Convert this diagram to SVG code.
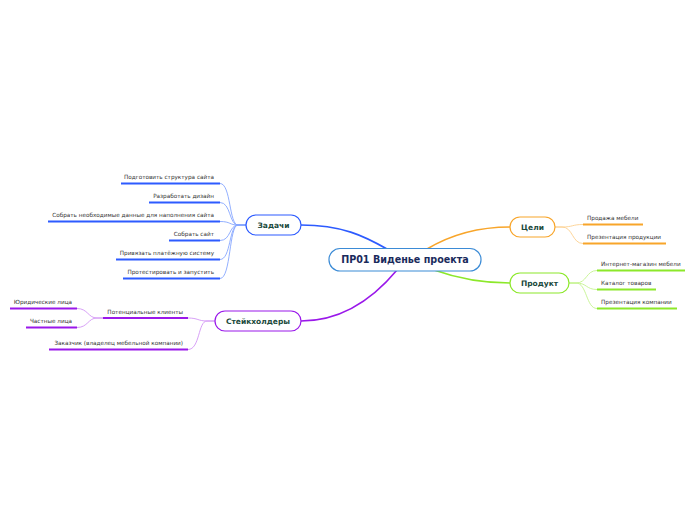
<svg xmlns="http://www.w3.org/2000/svg" width="696" height="520" viewBox="0 0 696 520">
<style>
.node rect{fill:#fff;stroke-width:1.2}
.lbl{font-family:"DejaVu Sans",Verdana,sans-serif;font-weight:bold;font-size:7.5px;fill:#1b4a3c;text-anchor:middle}
.leaf{font-family:"DejaVu Sans",Verdana,sans-serif;font-size:5.7px;fill:#333}
.l{text-anchor:end}
.main{fill:none;stroke-width:1.6}
.sub{fill:none;stroke-width:0.9}
.ul{stroke-width:2;fill:none}
.blue{stroke:#2d5bff}.lblue{stroke:#86a6ff}
.org{stroke:#f8a52a}.lorg{stroke:#fdd08e}
.grn{stroke:#8ce82a}.lgrn{stroke:#c4f38e}
.pur{stroke:#9a18ea}.lpur{stroke:#d395f5}
</style>
<rect width="696" height="520" fill="#fff"/>
<g id="connectors">
<path class="main blue" d="M301,225 C342,225 364,236 387,249"/>
<path class="main pur" d="M397,270 C372,300 340,321 301,321"/>
<path class="main org" d="M427,249 C452,234 480,227 510,227"/>
<path class="main grn" d="M434,270 C462,280 485,283 510,283"/>
<path class="sub lblue" d="M246,225 L238,225 C229,225 231,183.5 220,183.5"/>
<path class="sub lblue" d="M246,225 L238,225 C229,225 231,202.5 220,202.5"/>
<path class="sub lblue" d="M246,225 L238,225 C229,225 231,221.5 220,221.5"/>
<path class="sub lblue" d="M246,225 L238,225 C229,225 231,240.5 220,240.5"/>
<path class="sub lblue" d="M246,225 L238,225 C229,225 231,259.5 220,259.5"/>
<path class="sub lblue" d="M246,225 L238,225 C229,225 231,278.5 220,278.5"/>
<path class="sub lorg" d="M555,227 L562,227 C573,227 572,224.5 583,224.5"/>
<path class="sub lorg" d="M555,227 L562,227 C573,227 572,243.5 583,243.5"/>
<path class="sub lgrn" d="M569,283 L576,283 C587,283 586,270.5 597,270.5"/>
<path class="sub lgrn" d="M569,283 L576,283 C587,283 586,289.5 597,289.5"/>
<path class="sub lgrn" d="M569,283 L576,283 C587,283 586,308.5 597,308.5"/>
<path class="sub lpur" d="M215,321 L207,321 C198,321 198,318 188,318"/>
<path class="sub lpur" d="M215,321 L207,321 C198,321 200,349.5 188,349.5"/>
<path class="sub lpur" d="M103,318 L97,318 C88,318 88,308.5 77,308.5"/>
<path class="sub lpur" d="M103,318 L97,318 C88,318 88,327.5 77,327.5"/>
</g>
<g id="center" class="node">
<rect x="329" y="248.5" width="152" height="22.5" rx="11" stroke="#3b8bd6"/>
<text x="405" y="263.3" text-anchor="middle" font-family="DejaVu Sans,Verdana,sans-serif" font-weight="bold" font-size="9.6" fill="#1a2b5c">ПР01 Виденье проекта</text>
</g>
<g id="zadachi" class="node">
<rect x="246" y="215" width="55" height="20" rx="10" stroke="#2d5bff"/>
<text class="lbl" x="273.5" y="227.7">Задачи</text>
</g>
<g id="celi" class="node">
<rect x="510" y="217" width="45" height="20" rx="10" stroke="#f8a52a"/>
<text class="lbl" x="532.5" y="229.7">Цели</text>
</g>
<g id="produkt" class="node">
<rect x="510" y="273" width="59" height="20" rx="10" stroke="#8ce82a"/>
<text class="lbl" x="539.5" y="285.7">Продукт</text>
</g>
<g id="steikholdery" class="node">
<rect x="215" y="311" width="86" height="20" rx="10" stroke="#9a18ea"/>
<text class="lbl" x="258" y="323.7">Стейкхолдеры</text>
</g>
<g id="z1"><path class="ul blue" d="M121,183.5 H220"/><text class="leaf l" x="214" y="179">Подготовить структура сайта</text></g>
<g id="z2"><path class="ul blue" d="M149,202.5 H220"/><text class="leaf l" x="214" y="198">Разработать дизайн</text></g>
<g id="z3"><path class="ul blue" d="M48,221.5 H220"/><text class="leaf l" x="214" y="217">Собрать необходимые данные для наполнения сайта</text></g>
<g id="z4"><path class="ul blue" d="M169,240.5 H220"/><text class="leaf l" x="214" y="236">Собрать сайт</text></g>
<g id="z5"><path class="ul blue" d="M116,259.5 H220"/><text class="leaf l" x="214" y="255">Привязать платёжную систему</text></g>
<g id="z6"><path class="ul blue" d="M123,278.5 H220"/><text class="leaf l" x="214" y="274">Протестировать и запустить</text></g>
<g id="c1"><path class="ul org" d="M583,224.5 H643"/><text class="leaf" x="587" y="220">Продажа мебели</text></g>
<g id="c2"><path class="ul org" d="M583,243.5 H666"/><text class="leaf" x="587" y="239">Презентация продукции</text></g>
<g id="p1"><path class="ul grn" d="M597,270.5 H685"/><text class="leaf" x="601" y="266">Интернет-магазин мебели</text></g>
<g id="p2"><path class="ul grn" d="M597,289.5 H656"/><text class="leaf" x="601" y="285">Каталог товаров</text></g>
<g id="p3"><path class="ul grn" d="M597,308.5 H677"/><text class="leaf" x="601" y="304">Презентация компании</text></g>
<g id="s1"><path class="ul pur" d="M103,318 H188"/><text class="leaf l" x="183" y="313.5">Потенциальные клиенты</text></g>
<g id="s2"><path class="ul pur" d="M49,349.5 H188"/><text class="leaf l" x="183" y="345">Заказчик (владелец мебельной компании)</text></g>
<g id="s11"><path class="ul pur" d="M10,308.5 H77"/><text class="leaf l" x="72" y="304">Юридические лица</text></g>
<g id="s12"><path class="ul pur" d="M26,327.5 H77"/><text class="leaf l" x="72" y="323">Частные лица</text></g>
</svg>
